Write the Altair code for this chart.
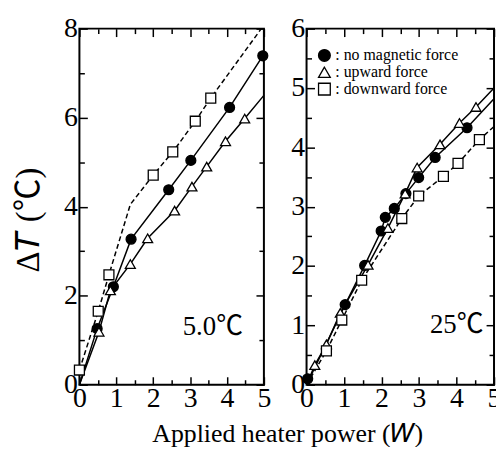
import altair as alt
import pandas as pd

FONT = "Liberation Serif, Noto Sans CJK JP"
SERIES = ["no magnetic force", "upward force", "downward force"]
DASHED = "downward force"

# ---- Left panel (5.0℃): measured points ----
L_nomag_x = [0.48, 0.92, 1.40, 2.42, 3.02, 4.07, 4.97]
L_nomag_y = [1.26, 2.20, 3.27, 4.38, 5.04, 6.23, 7.39]
L_up_x = [0.53, 0.84, 1.38, 1.85, 2.58, 3.05, 3.45, 3.96, 4.48]
L_up_y = [1.19, 2.12, 2.71, 3.29, 3.91, 4.45, 4.90, 5.47, 5.98]
L_down_x = [0.00, 0.51, 0.80, 2.00, 2.53, 3.14, 3.56]
L_down_y = [0.33, 1.65, 2.47, 4.71, 5.23, 5.92, 6.44]

# ---- Left panel: line vertices ----
L_nomag_lx = [0.0, 0.48, 0.92, 1.40, 2.42, 3.02, 4.07, 4.97]
L_nomag_ly = [0.0, 1.26, 2.20, 3.27, 4.38, 5.04, 6.23, 7.39]
L_up_lx = [0.0, 0.53, 0.84, 1.38, 1.85, 2.58, 3.05, 3.45, 3.96, 4.48, 5.0]
L_up_ly = [0.0, 1.19, 2.12, 2.71, 3.29, 3.91, 4.45, 4.90, 5.47, 5.98, 6.5]
L_down_lx = [0.00, 0.51, 0.80, 1.38, 2.00, 2.53, 3.14, 3.56, 4.93]
L_down_ly = [0.33, 1.65, 2.47, 4.05, 4.71, 5.23, 5.92, 6.44, 8.0]

# ---- Right panel (25℃): measured points ----
R_nomag_x = [0.03, 1.03, 1.55, 1.99, 2.10, 2.34, 2.65, 2.99, 3.43, 4.28]
R_nomag_y = [0.10, 1.35, 2.01, 2.59, 2.82, 2.97, 3.22, 3.49, 3.83, 4.33]
R_up_x = [0.22, 0.53, 0.90, 1.64, 2.17, 2.63, 2.95, 3.56, 4.08, 4.52]
R_up_y = [0.33, 0.68, 1.21, 2.02, 2.64, 3.22, 3.66, 4.05, 4.41, 4.68]
R_down_x = [0.53, 0.94, 1.47, 2.54, 2.99, 3.65, 4.04, 4.61]
R_down_y = [0.57, 1.09, 1.76, 2.80, 3.18, 3.51, 3.73, 4.13]

# ---- Right panel: line vertices ----
R_nomag_lx = [0.0, 1.03, 1.55, 1.99, 2.10, 2.34, 2.65, 2.99, 3.43, 4.28, 5.0]
R_nomag_ly = [0.0, 1.35, 2.01, 2.59, 2.82, 2.97, 3.22, 3.49, 3.83, 4.33, 4.82]
R_up_lx = [0.0, 0.22, 0.53, 0.90, 1.64, 2.17, 2.63, 2.95, 3.56, 4.08, 4.52, 5.0]
R_up_ly = [0.0, 0.33, 0.68, 1.21, 2.02, 2.64, 3.22, 3.66, 4.05, 4.41, 4.68, 5.0]
R_down_lx = [0.0, 0.53, 0.94, 1.47, 2.54, 2.99, 3.65, 4.04, 4.61, 5.0]
R_down_ly = [0.0, 0.57, 1.09, 1.76, 2.80, 3.18, 3.51, 3.73, 4.13, 4.35]

X_MAJOR = [0, 1, 2, 3, 4, 5]
X_MINOR = [0.5, 1.5, 2.5, 3.5, 4.5]
L_Y_MAJOR = [0, 2, 4, 6, 8]
L_Y_MINOR = [1, 3, 5, 7]
R_Y_MAJOR = [0, 1, 2, 3, 4, 5, 6]
R_Y_MINOR = [0.5, 1.5, 2.5, 3.5, 4.5, 5.5]


def long_df(xs_list, ys_list):
    rows = []
    for name, xs, ys in zip(SERIES, xs_list, ys_list):
        for i, (x, y) in enumerate(zip(xs, ys)):
            rows.append({"series": name, "x": x, "y": y, "order": i})
    return pd.DataFrame(rows)


def tick_axis(orient, values, size, labels=False, title=None, **kw):
    return alt.Axis(orient=orient, values=values, tickSize=size, offset=-size,
                    domain=False, labels=labels, grid=False, title=title,
                    ticks=True, tickColor="black", tickWidth=1.5, **kw)


LABEL_KW = dict(labelFont=FONT, labelFontSize=28, labelColor="black",
                labelOverlap=False, labelFlush=False)

SHAPE_SC = alt.Scale(domain=SERIES, range=["circle", "triangle-up", "square"])
FILL_SC = alt.Scale(domain=SERIES, range=["black", "white", "white"])
STROKE_SC = alt.Scale(domain=SERIES, range=["black", "black", "black"])

LEGEND = alt.Legend(title=None, orient="none", legendX=10, legendY=19,
                    labelExpr="': ' + datum.label", labelFont=FONT,
                    labelFontSize=16, labelColor="black", symbolSize=140,
                    symbolStrokeColor="black", symbolStrokeWidth=1.3,
                    rowPadding=0, labelOffset=3, padding=0)

PLOT_H = 359


def panel(pts, lines, ymax, y_major, y_minor, width, show_legend,
          note, note_x, note_y, note_align, ytitle):
    xs = alt.Scale(domain=[0, 5], nice=False, zero=False)
    ys = alt.Scale(domain=[0, ymax], nice=False, zero=False)

    if ytitle:
        y_axis_main = tick_axis("left", y_major, 8, labels=True, title=ytitle,
                                titleFont=FONT, titleFontSize=33,
                                titleFontWeight="normal", titleColor="black",
                                titlePadding=18, titleY=PLOT_H / 2 + 13,
                                labelPadding=2, **LABEL_KW)
    else:
        y_axis_main = tick_axis("left", y_major, 8, labels=True,
                                labelPadding=2, **LABEL_KW)

    solid = alt.Chart(lines[lines["series"] != DASHED]).mark_line(
        color="black", strokeWidth=1.5
    ).encode(
        x=alt.X("x:Q", scale=xs, axis=tick_axis("bottom", X_MAJOR, 8, labels=True,
                                                 labelPadding=0, **LABEL_KW)),
        y=alt.Y("y:Q", scale=ys, axis=y_axis_main),
        detail="series:N",
        order="order:Q",
    )

    dashed = alt.Chart(lines[lines["series"] == DASHED]).mark_line(
        color="black", strokeWidth=1.5, strokeDash=[5, 3]
    ).encode(
        x=alt.X("x:Q", scale=xs, axis=None),
        y=alt.Y("y:Q", scale=ys, axis=None),
        order="order:Q",
    )

    leg = LEGEND if show_legend else None
    point_layer = alt.Chart(pts).mark_point(
        strokeWidth=1.3, size=100, opacity=1, fillOpacity=1, strokeOpacity=1
    ).encode(
        x=alt.X("x:Q", scale=xs, axis=tick_axis("bottom", X_MINOR, 5)),
        y=alt.Y("y:Q", scale=ys, axis=tick_axis("left", y_minor, 5)),
        shape=alt.Shape("series:N", scale=SHAPE_SC, legend=leg),
        fill=alt.Fill("series:N", scale=FILL_SC, legend=leg),
        stroke=alt.Stroke("series:N", scale=STROKE_SC, legend=leg),
    )

    note_df = pd.DataFrame({"x": [note_x], "y": [note_y], "t": [note]})
    note_layer = alt.Chart(note_df).mark_text(
        font=FONT, fontSize=27, color="black", align=note_align, baseline="middle"
    ).encode(
        x=alt.X("x:Q", scale=xs, axis=tick_axis("top", X_MAJOR, 8)),
        y=alt.Y("y:Q", scale=ys, axis=tick_axis("right", y_major, 8)),
        text="t:N",
    )

    dummy_layer = alt.Chart(pts).mark_point(opacity=0).encode(
        x=alt.X("x:Q", scale=xs, axis=tick_axis("top", X_MINOR, 5)),
        y=alt.Y("y:Q", scale=ys, axis=tick_axis("right", y_minor, 5)),
    )

    return alt.layer(solid, dashed, point_layer, note_layer, dummy_layer).resolve_axis(
        x="independent", y="independent"
    ).properties(width=width, height=PLOT_H)


left = panel(long_df([L_nomag_x, L_up_x, L_down_x], [L_nomag_y, L_up_y, L_down_y]),
             long_df([L_nomag_lx, L_up_lx, L_down_lx], [L_nomag_ly, L_up_ly, L_down_ly]),
             8, L_Y_MAJOR, L_Y_MINOR, 186, False,
             "5.0℃", 2.8, 1.3, "left", "Δ𝑇 (℃)")
right = panel(long_df([R_nomag_x, R_up_x, R_down_x], [R_nomag_y, R_up_y, R_down_y]),
              long_df([R_nomag_lx, R_up_lx, R_down_lx], [R_nomag_ly, R_up_ly, R_down_ly]),
              6, R_Y_MAJOR, R_Y_MINOR, 189, True,
              "25℃", 4.72, 1.0, "right", None)

chart = alt.hconcat(left, right, spacing=18).resolve_scale(
    shape="independent", fill="independent", stroke="independent"
).resolve_legend(
    shape="independent", fill="independent", stroke="independent"
).properties(
    title=alt.TitleParams("Applied heater power (𝑊)", orient="bottom",
                          anchor="middle", font=FONT, fontSize=26,
                          fontWeight="normal", color="black", dx=31, offset=8),
    padding={"left": 4, "top": 4, "right": -6, "bottom": -2},
    background="white",
).configure(
    font=FONT
).configure_view(stroke="black", strokeWidth=2)

chart.save("out.html", embed_options={"renderer": "svg", "actions": False})
